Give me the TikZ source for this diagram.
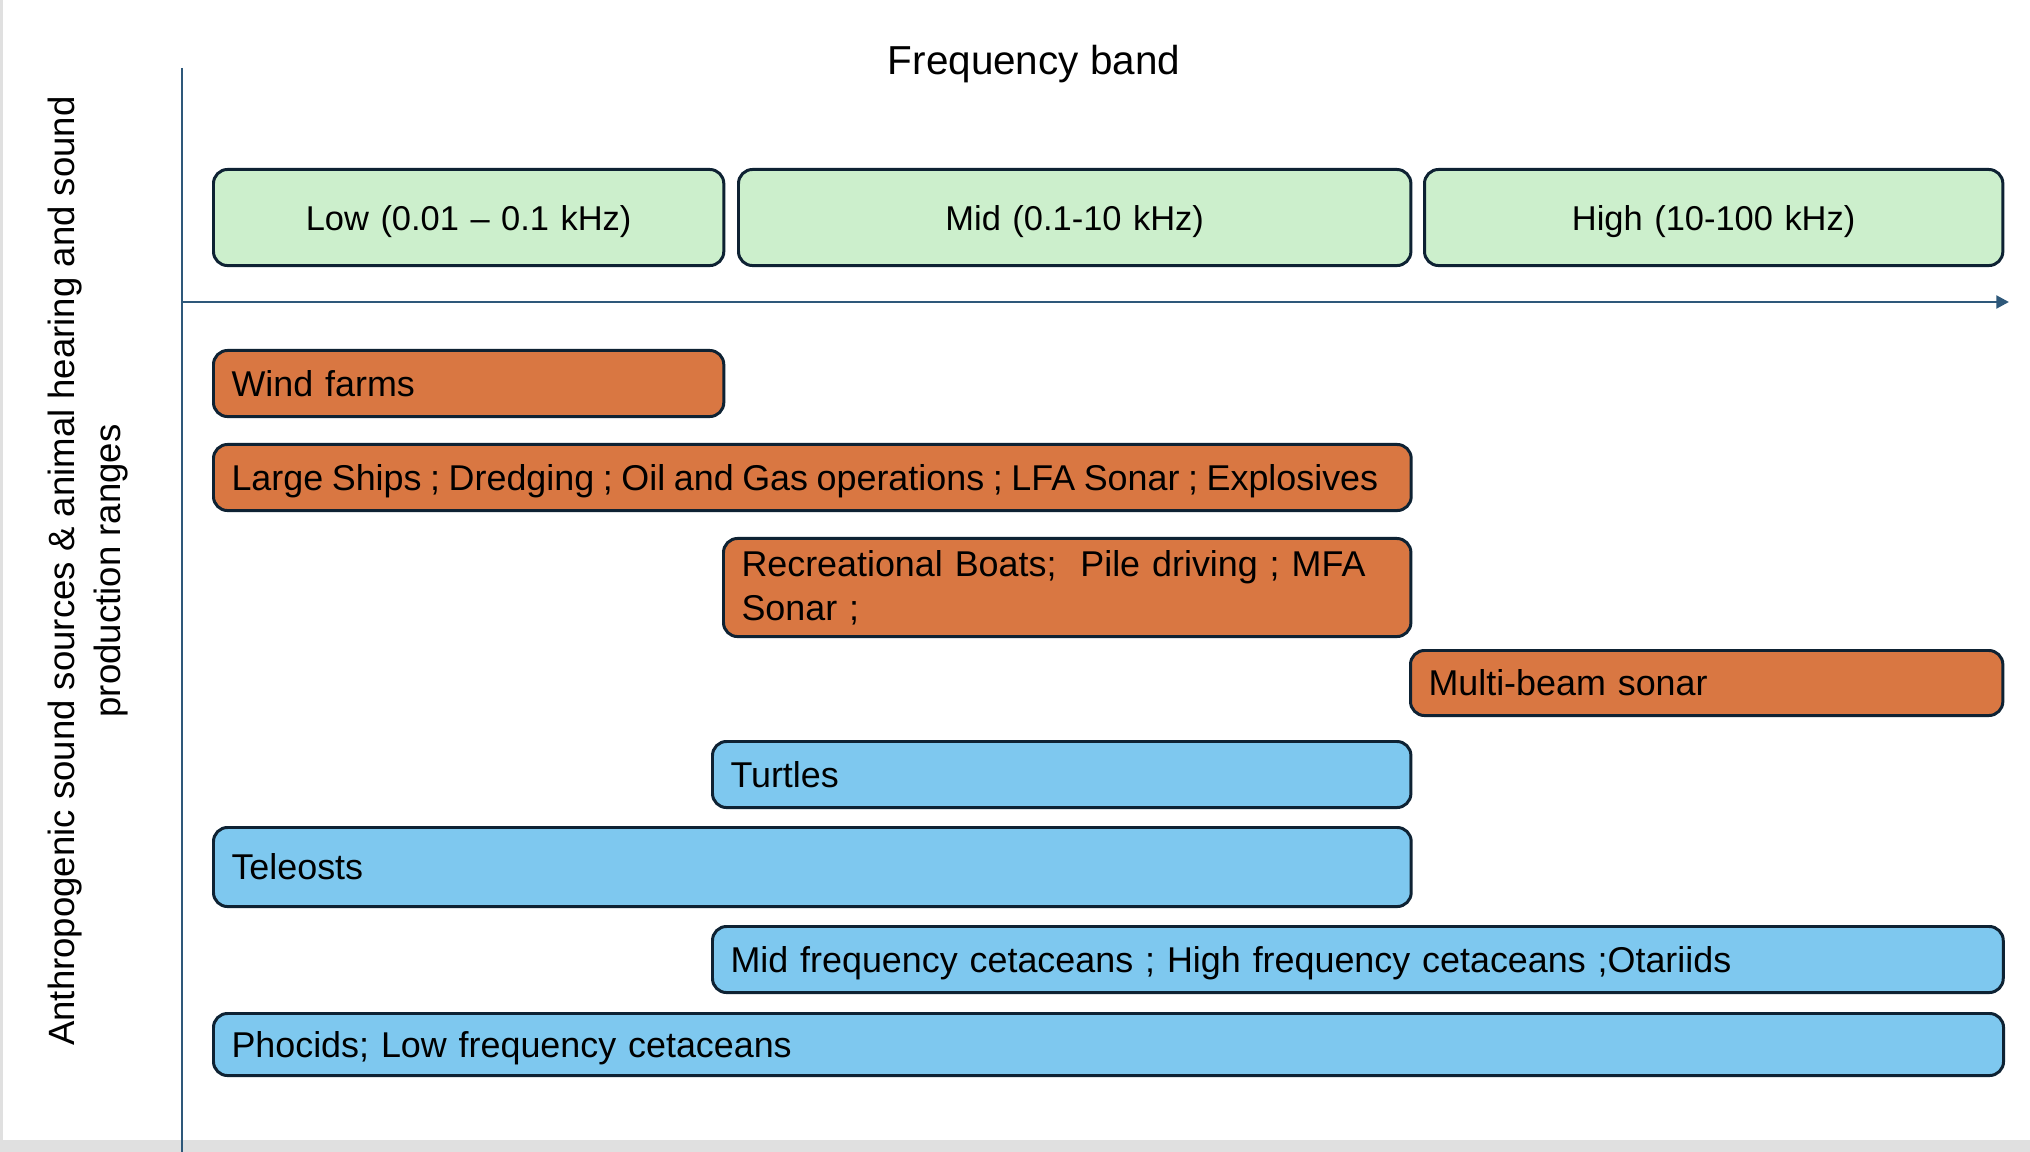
\documentclass[tikz,border=0pt]{standalone}
\usepackage{fontspec}
\setmainfont{Liberation Sans}
\usetikzlibrary{arrows.meta}
\definecolor{bandfill}{RGB}{204,239,204}
\definecolor{noisefill}{RGB}{217,119,66}
\definecolor{animalfill}{RGB}{126,200,239}
\definecolor{barline}{RGB}{14,34,51}
\definecolor{axisblue}{RGB}{46,88,122}
\definecolor{pagegray}{RGB}{224,224,224}
\begin{document}
\begin{tikzpicture}[x=0.01cm,y=-0.01cm,
    bar/.style={draw=barline,line width=0.85pt,rounded corners=0.14cm,anchor=north west,inner xsep=0.18cm,inner ysep=0pt,align=left,font=\fontsize{10.2}{12.5}\selectfont},
    oneline/.style={text height=7.3pt,text depth=0pt},
    band/.style={bar,oneline,fill=bandfill,align=center,minimum height=0.96cm,font=\fontsize{9.8}{12}\selectfont},
    noise/.style={bar,fill=noisefill},
    animal/.style={bar,fill=animalfill},
    axis/.style={draw=axisblue,line width=0.85pt}]
  \useasboundingbox (0,0) rectangle (2030,1152);
  \fill[pagegray] (0,0) rectangle (2030,1152);
  \fill[white] (3,0) rectangle (2030,1140);
  \coordinate (top) at (182,68);
  \coordinate (bottom) at (182,1152);
  \coordinate (origin) at (182,302);
  \coordinate (tip) at (2009,302);
  \draw[axis] (top) -- (bottom);
  \draw[axis,-{Triangle[length=3.6pt,width=3.6pt]}] (origin) -- (tip);
  \node[font=\fontsize{11.5}{13}\selectfont] (title) at (1034,64) {Frequency band};
  \node[rotate=90,align=center,font=\fontsize{10.4}{13.1}\selectfont] (ylabel) at (88,571) {Anthropogenic sound sources \& animal hearing and sound\\production ranges};
  \node[band,text width=4.74cm] (low) at (212,168) {Low (0.01 – 0.1 kHz)};
  \node[band,text width=6.36cm] (mid) at (737,168) {Mid (0.1-10 kHz)};
  \node[band,text width=5.42cm] (high) at (1423,168) {High (10-100 kHz)};
  \node[noise,oneline,text width=4.74cm,minimum height=0.66cm] (wind) at (212,349) {Wind farms};
  \node[noise,oneline,text width=11.61cm,minimum height=0.66cm] (ships) at (212,443) {\spaceskip=0.24em\mbox{Large Ships ; Dredging ; Oil and Gas operations ; LFA Sonar ; Explosives}};
  \node[noise,text width=6.51cm,minimum height=0.98cm] (boats) at (722,537) {Recreational Boats; \ Pile driving ; MFA\\Sonar ;};
  \node[noise,oneline,text width=5.56cm,minimum height=0.65cm] (multibeam) at (1409,649) {Multi-beam sonar};
  \node[animal,oneline,text width=6.62cm,minimum height=0.66cm] (turtles) at (711,740) {Turtles};
  \node[animal,oneline,text width=11.61cm,minimum height=0.79cm] (teleosts) at (212,826) {Teleosts};
  \node[animal,oneline,text width=12.54cm,minimum height=0.66cm] (midcet) at (711,925) {Mid frequency cetaceans ; High frequency cetaceans ;Otariids};
  \node[animal,oneline,text width=17.53cm,minimum height=0.62cm] (phocids) at (212,1012) {Phocids; Low frequency cetaceans};
\end{tikzpicture}
\end{document}
